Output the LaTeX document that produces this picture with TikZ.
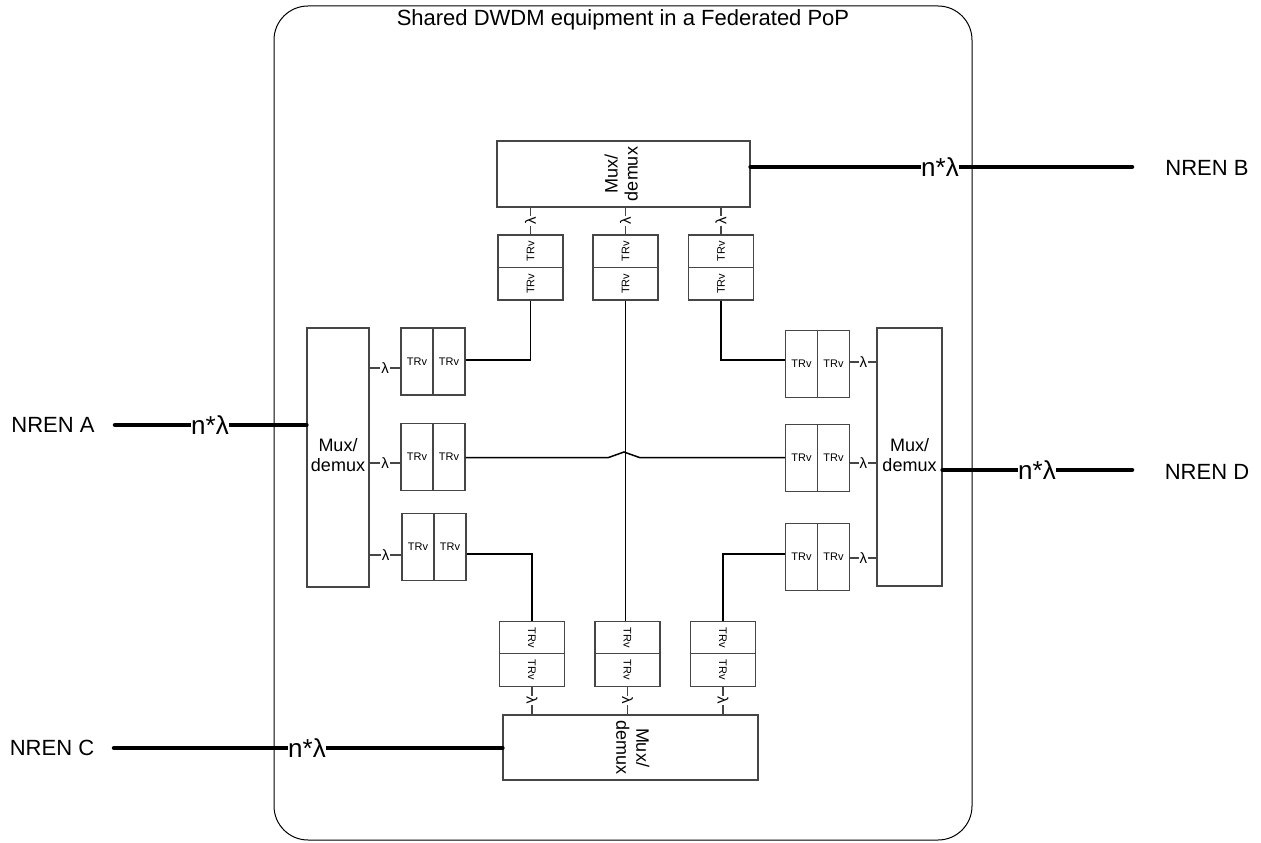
\documentclass[tikz,border=0pt]{standalone}
\usepackage{fontspec}
\setmainfont{Liberation Sans}
\usepackage{graphicx}
\definecolor{boxgray}{RGB}{70,70,70}
\newcommand{\MuxTxt}{\begin{tabular}{@{}c@{}}Mux/\\[-1pt]demux\end{tabular}}
\tikzset{
  frame/.style={draw=black, line width=1pt, rounded corners=34pt, minimum width=698pt, minimum height=834pt},
  title/.style={font=\fontsize{22}{25}\selectfont},
  muxbox/.style={draw=boxgray, line width=1.1pt, fill=white, font=\fontsize{18}{21}\selectfont},
  trvv/.style={draw=boxgray, line width=1.1pt, fill=white, minimum width=65pt, minimum height=32.5pt, font=\fontsize{11}{13}\selectfont},
  trvh/.style={draw=boxgray, line width=1.1pt, fill=white, minimum width=32pt, minimum height=67pt, font=\fontsize{11}{13}\selectfont},
  stub/.style={draw=boxgray, line width=1.1pt},
  lam/.style={fill=white, inner sep=1pt, font=\fontsize{15}{17}\selectfont},
  conn/.style={draw=black, line width=1.5pt},
  fat/.style={draw=black, line width=4.5pt, line cap=round},
  nlam/.style={fill=white, inner sep=0.5pt, font=\fontsize{26}{30}\selectfont},
  nren/.style={font=\fontsize{22}{25}\selectfont}
}
\begin{document}
\begin{tikzpicture}[x=1pt,y=-1pt, every node/.append style={inner sep=0pt}]
\useasboundingbox (0,0) rectangle (1261,843);
\node[frame] (pop) at (623,423) {};
\node[title] (title) at (623,20) {Shared DWDM equipment in a Federated PoP};

% multiplexers
\node[muxbox, minimum width=253pt, minimum height=66pt] (mT) at (623.5,174) {\rotatebox{90}{\MuxTxt}};
\node[muxbox, minimum width=62pt, minimum height=259pt] (mL) at (338,457.5) {\MuxTxt};
\node[muxbox, minimum width=65pt, minimum height=258pt] (mR) at (909.5,457) {\MuxTxt};
\node[muxbox, minimum width=255pt, minimum height=65pt] (mB) at (630.5,747.5) {\rotatebox{-90}{\MuxTxt}};

% top transponders
\node[trvv] (t1a) at (530.5,251.25) {\rotatebox{90}{TRv}};
\node[trvv] (t1b) at (530.5,283.75) {\rotatebox{90}{TRv}};
\node[trvv] (t2a) at (625.5,251.25) {\rotatebox{90}{TRv}};
\node[trvv] (t2b) at (625.5,283.75) {\rotatebox{90}{TRv}};
\node[trvv] (t3a) at (721,251.25) {\rotatebox{90}{TRv}};
\node[trvv] (t3b) at (721,283.75) {\rotatebox{90}{TRv}};
% bottom transponders
\node[trvv] (b1a) at (532,638) {\rotatebox{-90}{TRv}};
\node[trvv] (b1b) at (532,670) {\rotatebox{-90}{TRv}};
\node[trvv] (b2a) at (627.5,638) {\rotatebox{-90}{TRv}};
\node[trvv] (b2b) at (627.5,670) {\rotatebox{-90}{TRv}};
\node[trvv] (b3a) at (723,638) {\rotatebox{-90}{TRv}};
\node[trvv] (b3b) at (723,670) {\rotatebox{-90}{TRv}};
% left transponders
\node[trvh] (l1a) at (417,361.5) {TRv};
\node[trvh] (l1b) at (449,361.5) {TRv};
\node[trvh] (l2a) at (417,457) {TRv};
\node[trvh] (l2b) at (449,457) {TRv};
\node[trvh] (l3a) at (418,547) {TRv};
\node[trvh] (l3b) at (450,547) {TRv};
% right transponders
\node[trvh] (r1a) at (801.5,364) {TRv};
\node[trvh] (r1b) at (833.5,364) {TRv};
\node[trvh] (r2a) at (801.5,458) {TRv};
\node[trvh] (r2b) at (833.5,458) {TRv};
\node[trvh] (r3a) at (801.5,557) {TRv};
\node[trvh] (r3b) at (833.5,557) {TRv};

% lambda stubs
\draw[stub] (mT.south -| t1a) -- (t1a.north) node[lam, midway, rotate=90] (sT1) {λ};
\draw[stub] (mT.south -| t2a) -- (t2a.north) node[lam, midway, rotate=90] (sT2) {λ};
\draw[stub] (mT.south -| t3a) -- (t3a.north) node[lam, midway, rotate=90] (sT3) {λ};
\draw[stub] (b1b.south) -- (mB.north -| b1b) node[lam, midway, rotate=-90] (sB1) {λ};
\draw[stub] (b2b.south) -- (mB.north -| b2b) node[lam, midway, rotate=-90] (sB2) {λ};
\draw[stub] (b3b.south) -- (mB.north -| b3b) node[lam, midway, rotate=-90] (sB3) {λ};
\draw[stub] (mL.east |- 0,368) -- (l1a.west |- 0,368) node[lam, midway] (sL1) {λ};
\draw[stub] (mL.east |- 0,463) -- (l2a.west |- 0,463) node[lam, midway] (sL2) {λ};
\draw[stub] (mL.east |- 0,555) -- (l3a.west |- 0,555) node[lam, midway] (sL3) {λ};
\draw[stub] (r1b.east |- 0,362) -- (mR.west |- 0,362) node[lam, midway] (sR1) {λ};
\draw[stub] (r2b.east |- 0,463) -- (mR.west |- 0,463) node[lam, midway] (sR2) {λ};
\draw[stub] (r3b.east |- 0,558) -- (mR.west |- 0,558) node[lam, midway] (sR3) {λ};

% cross connections
\draw[conn] (t1b.south) |- (l1b.east |- 0,360);
\draw[conn] (t3b.south) |- (r1a.west |- 0,360);
\draw[conn] (t2b.south) -- (t2b.south |- b2a.north);
\draw[conn] (l2b.east |- 0,457.7) -- (608,457.7) -- (624,452) -- (640,457.7) -- (r2a.west |- 0,457.7);
\draw[conn] (l3b.east |- 0,554) -| (b1a.north);
\draw[conn] (r3a.west |- 0,554) -| (b3a.north);

% NREN links
\coordinate (eA) at (115,425);
\coordinate (eB) at (1132,167);
\coordinate (eC) at (114,748);
\coordinate (eD) at (1132,470);
\draw[fat] (eA) -- (mL.west |- eA);
\draw[fat] (mT.east |- eB) -- (eB);
\draw[fat] (eC) -- (mB.west |- eC);
\draw[fat] (mR.east |- eD) -- (eD);
\node[nlam] (lA) at (210,425) {n*λ};
\node[nlam] (lB) at (940,167) {n*λ};
\node[nlam] (lC) at (307,748) {n*λ};
\node[nlam] (lD) at (1037,470) {n*λ};
\node[nren] (nA) at (53,425) {NREN A};
\node[nren] (nB) at (1207,168) {NREN B};
\node[nren] (nC) at (52,748) {NREN C};
\node[nren] (nD) at (1207,472) {NREN D};
\end{tikzpicture}
\end{document}
